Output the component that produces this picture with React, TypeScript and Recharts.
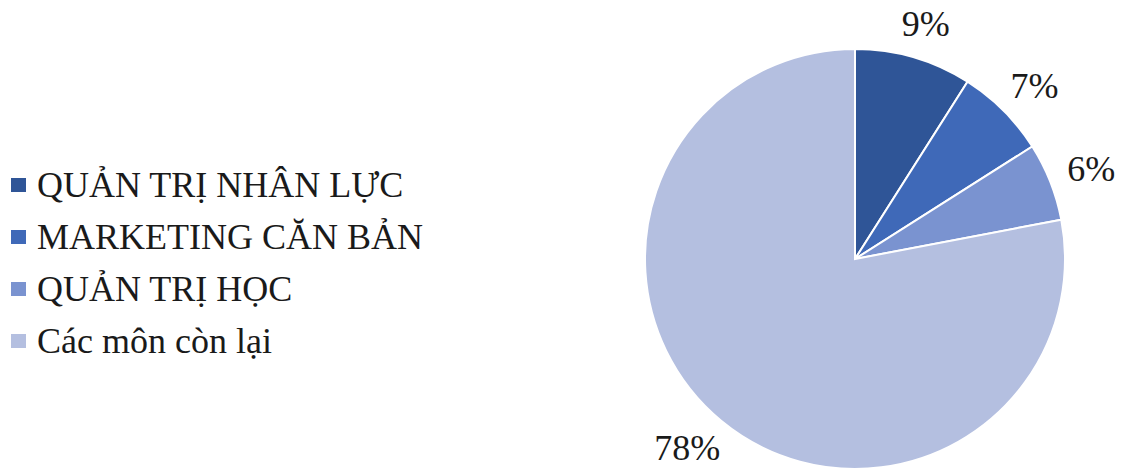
import { PieChart, Pie, Cell, Legend } from 'recharts';

const subjects = ['QUẢN TRỊ NHÂN LỰC', 'MARKETING CĂN BẢN', 'QUẢN TRỊ HỌC', 'Các môn còn lại'];
const shares = [9, 7, 6, 78];
const colors = ['#2F5597', '#3F69B8', '#7A93D0', '#B4BFE0'];

const data = subjects.map((name, i) => ({ name, value: shares[i] }));

const FONT = 'Liberation Serif';
const FONT_SIZE = 36;
const RADIAN = Math.PI / 180;

// label box sits just outside the slice, pushed out by half its own size
const renderLabel = (props: any) => {
    const { cx, cy, midAngle, outerRadius, value } = props;
    const text = `${value}%`;
    const halfW = ((text.length - 1) * 0.5 + 0.833) * FONT_SIZE / 2;
    const halfH = 15;
    const cos = Math.cos(-midAngle * RADIAN);
    const sin = Math.sin(-midAngle * RADIAN);
    const r = outerRadius + 20;
    const x = cx + r * cos + halfW * cos;
    const y = cy + r * sin + halfH * sin;
    return (
        <text
            x={x}
            y={y}
            textAnchor="middle"
            dominantBaseline="central"
            fill="#1a1a1a"
            style={{ fontFamily: FONT, fontSize: FONT_SIZE }}
        >
            {text}
        </text>
    );
};

// legend drawn in data order, not the sorted payload
const renderLegend = () => (
    <div style={{ fontFamily: FONT, fontSize: FONT_SIZE, color: '#1a1a1a', lineHeight: 1 }}>
        {subjects.map((name, i) => (
            <div key={name} style={{ display: 'flex', alignItems: 'center', height: 52 }}>
                <span
                    style={{
                        display: 'inline-block',
                        width: 15,
                        height: 14,
                        background: colors[i],
                        marginRight: 11,
                    }}
                />
                <span style={{ whiteSpace: 'nowrap' }}>{name}</span>
            </div>
        ))}
    </div>
);

export default function App() {
    return (
        <div style={{ position: 'absolute', left: 0, top: 0, width: 1122, height: 472, background: '#fff' }}>
            <PieChart width={1122} height={472} margin={{ top: 0, right: 0, bottom: 0, left: 0 }}>
                <Pie
                    data={data}
                    dataKey="value"
                    nameKey="name"
                    cx={855}
                    cy={259}
                    outerRadius={210}
                    startAngle={90}
                    endAngle={-270}
                    stroke="#ffffff"
                    strokeWidth={2}
                    label={renderLabel}
                    labelLine={false}
                    isAnimationActive={false}
                >
                    {data.map((d, i) => (
                        <Cell key={d.name} fill={colors[i]} />
                    ))}
                </Pie>
                <Legend
                    layout="vertical"
                    content={renderLegend}
                    wrapperStyle={{ left: 11, top: 159, width: 480, bottom: 'auto' }}
                />
            </PieChart>
        </div>
    );
}
